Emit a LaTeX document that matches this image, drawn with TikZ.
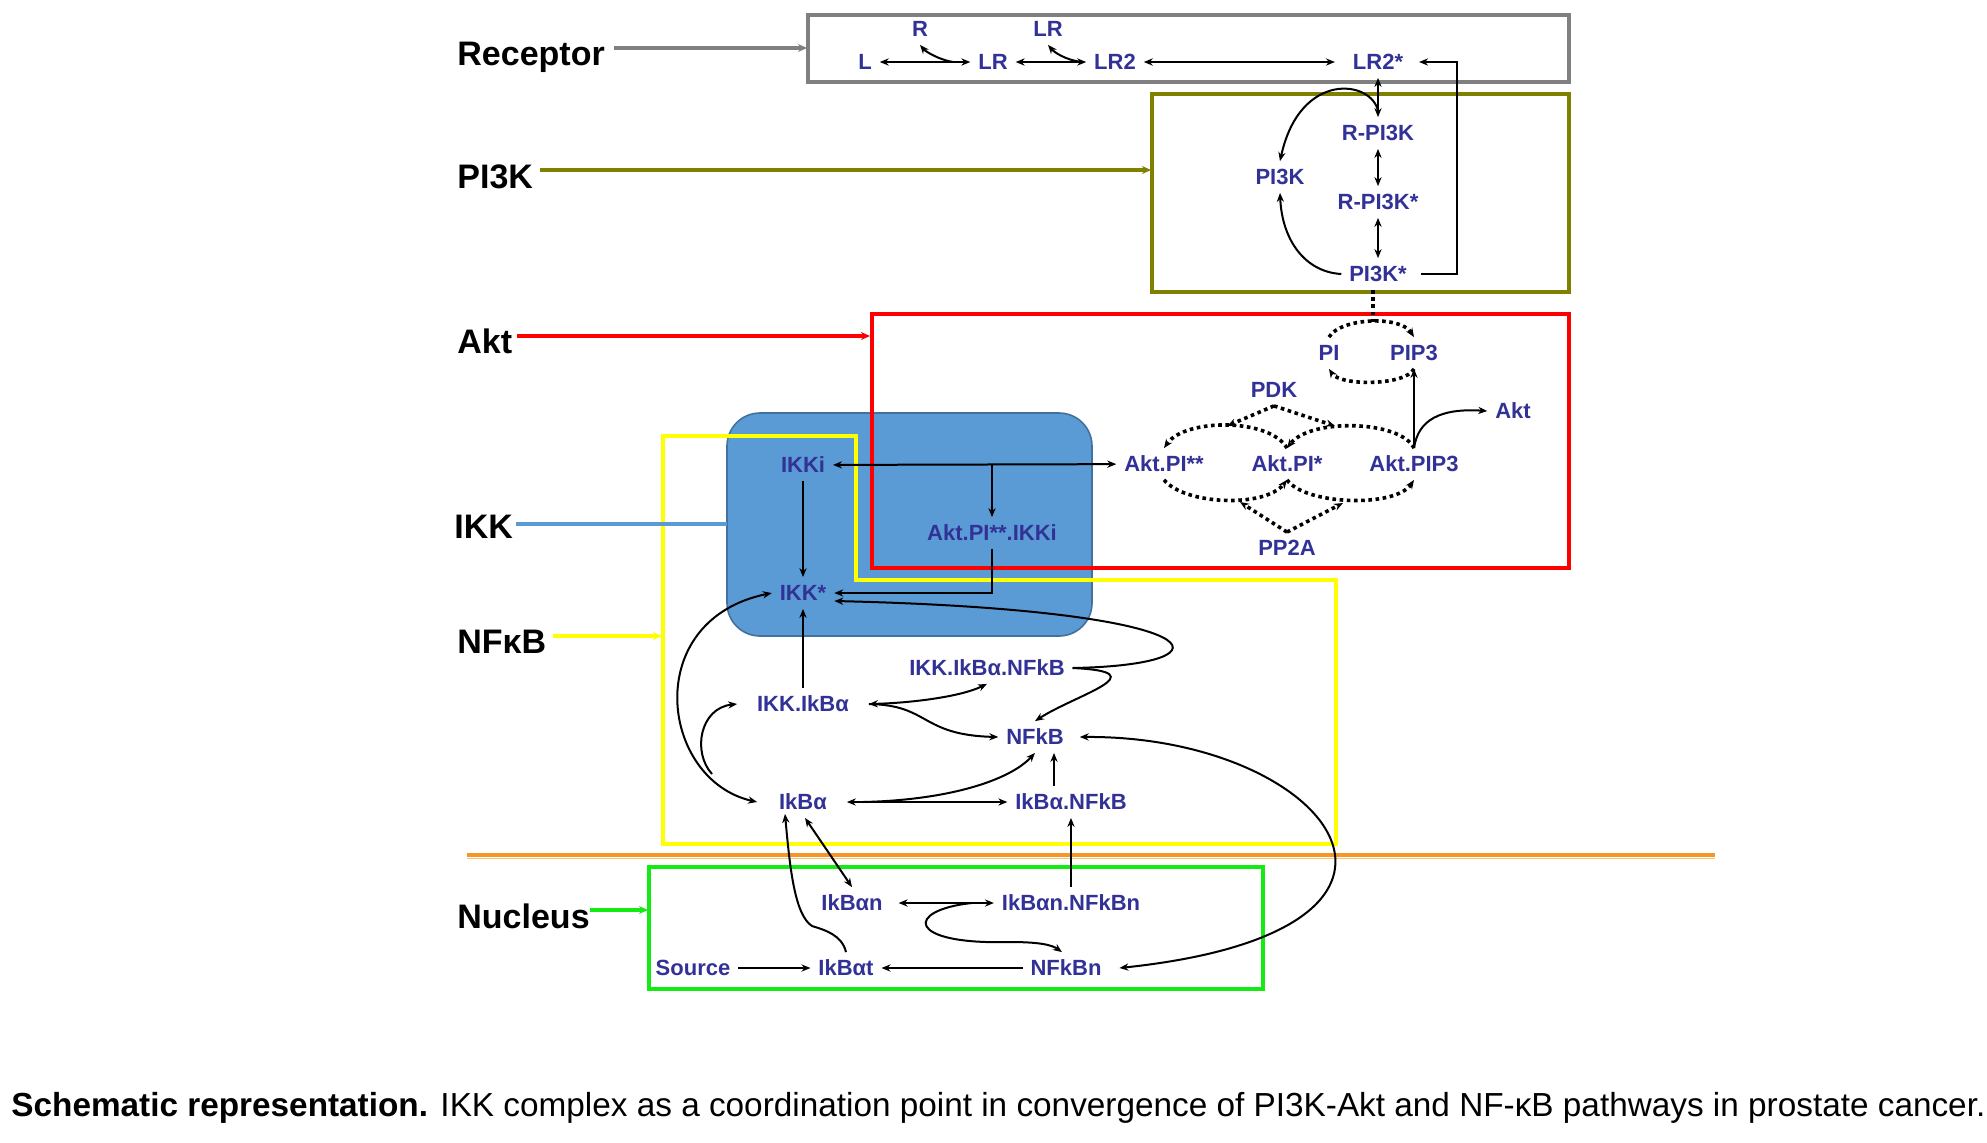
\documentclass[tikz,border=0pt]{standalone}
\usepackage{fontspec}
\setmainfont{Liberation Sans}
\usetikzlibrary{arrows.meta}
\definecolor{nblue}{RGB}{50,50,150}
\definecolor{boxgray}{RGB}{128,128,128}
\definecolor{olivebox}{RGB}{128,128,0}
\definecolor{redbox}{RGB}{255,0,0}
\definecolor{yelbox}{RGB}{255,255,0}
\definecolor{grnbox}{RGB}{20,235,20}
\definecolor{ikkfill}{RGB}{91,155,213}
\definecolor{ikkdraw}{RGB}{65,113,156}
\definecolor{orgline}{RGB}{247,150,40}
\definecolor{orgpale}{RGB}{250,195,120}
\begin{document}
\begin{tikzpicture}[x=0.5pt,y=-0.5pt,
  >={Stealth[length=4.5pt,width=3.6pt]},
  lab/.style={font=\fontsize{11}{13}\selectfont\bfseries, text=nblue, inner sep=1pt, outer sep=3pt, text height=7.9pt, text depth=0pt},
  side/.style={font=\fontsize{17}{20}\selectfont\bfseries, anchor=base west, inner sep=0pt},
  conn/.style={line width=1pt},
  dotline/.style={line width=1.8pt, dash pattern=on 1.8pt off 1.8pt},
  ptr/.style={line width=1.6pt, -{Stealth[length=4.5pt,width=4pt]}},
  boxline/.style={line width=2pt}]
\useasboundingbox (0,0) rectangle (1987,1142);
\fill[white] (0,0) rectangle (1987,1142);

% ---- compartments
\draw[boxgray, boxline] (808,15) rectangle (1569,82);
\draw[olivebox, boxline] (1152,94) rectangle (1569,292);
\draw[ikkdraw, fill=ikkfill, line width=0.8pt, rounded corners=16.5pt] (727,413) rectangle (1092,636);
\draw[redbox, boxline] (872,314) rectangle (1569,568);
\draw[yelbox, boxline] (663,436) -- (856,436) -- (856,580) -- (1336,580) -- (1336,844) -- (663,844) -- cycle;
\draw[grnbox, boxline] (649,867) rectangle (1263,989);
\draw[orgline, line width=2pt] (467,854.5) -- (1715,854.5);
\draw[orgpale, line width=0.8pt] (467,858.5) -- (1715,858.5);

% ---- side labels and pointers
\node[side] (recl) at (457,65) {Receptor};
\node[side] (pi3kl) at (457,188) {PI3K};
\node[side] (aktl) at (457,353) {Akt};
\node[side] (ikkl) at (454,538) {IKK};
\node[side] (nfkbl) at (457,653) {NFκB};
\node[side] (nucl) at (457,928) {Nucleus};
\coordinate (recA) at (614,48);   \coordinate (recB) at (807,48);
\coordinate (piA) at (540,170);   \coordinate (piB) at (1151,170);
\coordinate (akA) at (517,336);   \coordinate (akB) at (870,336);
\coordinate (ikA) at (516,524);   \coordinate (ikB) at (727,524);
\coordinate (nfA) at (553,636);   \coordinate (nfB) at (662,636);
\coordinate (nuA) at (590,910);   \coordinate (nuB) at (648,910);
\draw[ptr, boxgray] (recA) -- (recB);
\draw[ptr, olivebox] (piA) -- (piB);
\draw[ptr, redbox] (akA) -- (akB);
\draw[line width=2pt, ikkfill] (ikA) -- (ikB);
\draw[ptr, yelbox] (nfA) -- (nfB);
\draw[ptr, grnbox] (nuA) -- (nuB);

% ---- species
\node[lab] (L) at (865,62) {L};
\node[lab] (R) at (920,29) {R};
\node[lab] (LR) at (993,62) {LR};
\node[lab] (LRt) at (1048,29) {LR};
\node[lab] (LR2) at (1115,62) {LR2};
\node[lab] (LR2s) at (1378,62) {LR2*};
\node[lab] (RPI3K) at (1378,133) {R-PI3K};
\node[lab] (PI3K) at (1280,177) {PI3K};
\node[lab] (RPI3Ks) at (1378,202) {R-PI3K*};
\node[lab] (PI3Ks) at (1378,274) {PI3K*};
\node[lab] (PI) at (1329,353) {PI};
\node[lab] (PIP3) at (1414,353) {PIP3};
\node[lab] (PDK) at (1274,390) {PDK};
\node[lab] (Akt) at (1513,411) {Akt};
\node[lab] (AktPIss) at (1164,464) {Akt.PI**};
\node[lab] (AktPIs) at (1287,464) {Akt.PI*};
\node[lab] (AktPIP3) at (1414,464) {Akt.PIP3};
\node[lab] (PP2A) at (1287,548) {PP2A};
\node[lab] (IKKi) at (803,465) {IKKi};
\node[lab] (AktPIssIKKi) at (992,533) {Akt.PI**.IKKi};
\node[lab] (IKKs) at (803,593) {IKK*};
\node[lab] (IKKIkBaNFkB) at (987,668) {IKK.IkBα.NFkB};
\node[lab] (IKKIkBa) at (803,704) {IKK.IkBα};
\node[lab] (NFkB) at (1035,737) {NFkB};
\node[lab] (IkBa) at (803,802) {IkBα};
\node[lab] (IkBaNFkB) at (1071,802) {IkBα.NFkB};
\node[lab] (IkBan) at (852,903) {IkBαn};
\node[lab] (IkBanNFkBn) at (1071,903) {IkBαn.NFkBn};
\node[lab] (Source) at (693,968) {Source};
\node[lab] (IkBat) at (846,968) {IkBαt};
\node[lab] (NFkBn) at (1066,968) {NFkBn};

% ---- receptor
\coordinate (rj) at (953,62);
\coordinate (lrj) at (1082,62);
\coordinate (fb) at (1457,170);
\draw[conn,<->] (L) -- (LR);
\draw[conn,->] (rj) .. controls (940,60) and (926,52) .. (R.south);
\draw[conn,<->] (LR) -- (LR2);
\draw[conn,->] (lrj) .. controls (1065,60) and (1054,52) .. (LRt.south);
\draw[conn,<->] (LR2) -- ([xshift=-5pt]LR2s.west);
\draw[conn,->] ([xshift=3pt]PI3Ks.east) -| (fb) |- ([xshift=4pt]LR2s.east);

% ---- PI3K
\draw[conn,<->] (LR2s) -- (RPI3K);
\draw[conn,->] ([yshift=3pt]RPI3K.north) .. controls (1372,80) and (1300,70) .. (PI3K.north);
\draw[conn,<->] (RPI3K) -- (RPI3Ks);
\draw[conn,<->] (RPI3Ks) -- (PI3Ks);
\draw[conn,->] (PI3Ks.west) .. controls (1305,272) and (1282,240) .. (PI3K.south);
\coordinate (dtop) at (1373,322);
\draw[dotline] (dtop |- PI3Ks.south) -- (dtop);

% ---- Akt
\draw[dotline,->] (PI.north) .. controls (1340,318) and (1400,315) .. (PIP3.north);
\draw[dotline,->] (PIP3.south) .. controls (1405,386) and (1340,386) .. (PI.south);
\draw[conn,->] (AktPIP3.north) -- (PIP3.south);
\draw[conn,->] (AktPIP3.north) .. controls (1418,420) and (1440,408) .. (Akt.west);
\draw[dotline,->] (AktPIP3.north) .. controls (1400,420) and (1310,418) .. (AktPIs.north);
\draw[dotline,->] (AktPIs.north) .. controls (1270,418) and (1185,418) .. (AktPIss.north);
\draw[dotline,->] (AktPIss.south) .. controls (1185,505) and (1265,508) .. (AktPIs.south);
\draw[dotline,->] (AktPIs.south) .. controls (1305,505) and (1395,508) .. (AktPIP3.south);
\coordinate (pk1) at (1227,426);
\coordinate (pk2) at (1335,426);
\coordinate (pp1) at (1240,502);
\coordinate (pp2) at (1343,503);
\draw[dotline,->] (PDK.south) -- (pk1);
\draw[dotline,->] (PDK.south) -- (pk2);
\draw[dotline,->] (PP2A.north) -- (pp1);
\draw[dotline,->] (PP2A.north) -- (pp2);

% ---- IKK
\draw[conn,<->] (IKKi) -- (AktPIss);
\draw[conn,->] (AktPIssIKKi |- IKKi) -- (AktPIssIKKi);
\draw[conn,->] (AktPIssIKKi.south) |- (IKKs.east);
\draw[conn,->] (IKKi) -- (IKKs);
\draw[conn,->] (IKKIkBa) -- (IKKs);

% ---- NFkB
\coordinate (oj) at (712,774);
\draw[conn,<->] ([xshift=-7pt]IkBa.west) .. controls (660,780) and (640,620) .. (IKKs.west);
\draw[conn,->] (oj) .. controls (692,752) and (700,708) .. ([xshift=-6pt]IKKIkBa.west);
\coordinate (cj1) at ([xshift=6pt]IKKIkBa.east);
\draw[conn,<->] (cj1) .. controls (910,703) and (960,697) .. (IKKIkBaNFkB.south);
\draw[conn,->] (cj1) .. controls (930,705) and (920,735) .. (NFkB.west);
\draw[conn,->] (IKKIkBaNFkB.east) .. controls (1240,665) and (1220,610) .. ([yshift=-4pt]IKKs.east);
\draw[conn,->] (IKKIkBaNFkB.east) .. controls (1160,672) and (1075,695) .. (NFkB.north);
\coordinate (cj2) at ([xshift=14pt]IkBa.east);
\draw[conn,<->] ([xshift=6pt]IkBa.east) -- (IkBaNFkB.west);
\draw[conn,->] (cj2) .. controls (950,800) and (1010,780) .. (NFkB.south);
\draw[conn,->] ([xshift=-8.5pt]IkBaNFkB.north) -- ([xshift=-8.5pt]IkBaNFkB.north |- NFkB.south);
\draw[conn,<->] ([xshift=4pt]NFkB.east) .. controls (1330,735) and (1480,930) .. ([xshift=5pt]NFkBn.east);

% ---- nucleus
\draw[conn,->] (Source) -- (IkBat);
\draw[conn,->] (NFkBn) -- (IkBat);
\coordinate (sj) at (812,926);
\draw[conn,->] (IkBat.north) .. controls (842,935) and (825,930) .. (sj) .. controls (795,915) and (790,870) .. ([xshift=-9pt,yshift=2pt]IkBa.south);
\draw[conn,<->] ([xshift=1pt]IkBa.south) -- (IkBan.north);
\draw[conn,<->] ([xshift=4pt]IkBan.east) -- (IkBanNFkBn.west);
\coordinate (cj3) at ([xshift=-11pt]IkBanNFkBn.west);
\coordinate (lj) at (1010,942);
\draw[conn,->] (cj3) .. controls (905,910) and (905,945) .. (lj) .. controls (1040,942) and (1052,945) .. ([xshift=-2pt]NFkBn.north);
\draw[conn,->] (IkBanNFkBn.north) -- (IkBaNFkB.south);

% ---- caption
\node[anchor=west, inner sep=0pt] (cap) at (11,1108) {\resizebox{987pt}{!}{\fontsize{15}{18}\selectfont\textbf{Schematic representation.} IKK complex as a coordination point in convergence of PI3K-Akt and NF-κB pathways in prostate cancer.}};
\end{tikzpicture}
\end{document}
